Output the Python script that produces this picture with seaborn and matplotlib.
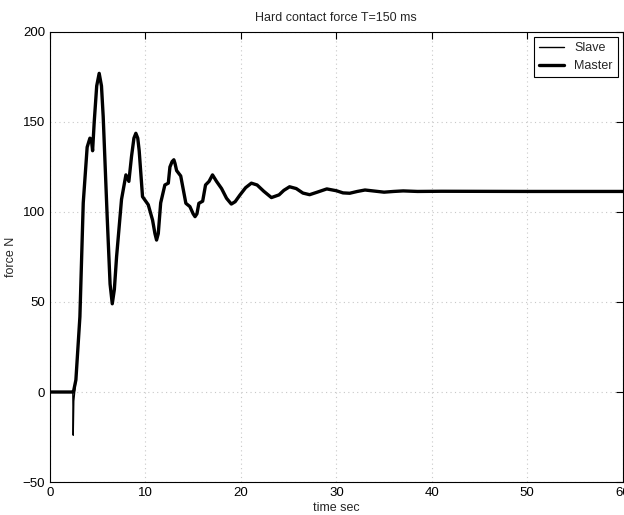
import seaborn as sns
import matplotlib.pyplot as plt
import pandas as pd

# values
time = [0.0, 2.40, 2.44, 2.50, 2.72, 3.14, 3.49, 3.90, 4.19, 4.35, 4.47, 4.64, 4.90, 5.16,
        5.40, 5.58, 6.00, 6.30, 6.53, 6.75, 6.98, 7.50, 7.96, 8.27, 8.55, 8.80, 9.00,
        9.20, 9.35, 9.70, 10.30, 10.75, 11.00, 11.17, 11.35, 11.60, 12.04, 12.40, 12.57,
        12.80, 12.98, 13.10, 13.27, 13.70, 14.24, 14.66, 15.00, 15.20, 15.40, 15.60,
        16.00, 16.30, 16.67, 17.03, 17.45, 17.98, 18.50, 19.00, 19.40, 19.90, 20.50,
        21.10, 21.70, 22.40, 23.20, 24.00, 24.50, 25.10, 25.80, 26.50, 27.20, 28.00,
        29.00, 30.00, 30.70, 31.40, 32.20, 33.00, 34.00, 35.00, 36.00, 37.00, 38.50,
        41.00, 50.00, 60.00]
slave = [0.0, 0.0, -24.0, -5.0, 6.7, 41.8, 105.0, 136.0, 141.0, 140.0, 134.0, 150.0, 170.0, 177.0,
         170.0, 153.0, 97.0, 60.0, 49.0, 57.0, 75.0, 107.0, 120.6, 117.0, 131.0, 141.0, 143.7,
         141.0, 134.0, 108.5, 104.0, 95.5, 88.0, 84.4, 88.0, 105.0, 115.0, 116.0, 125.0,
         128.0, 129.0, 127.0, 123.0, 120.0, 104.8, 103.0, 99.0, 97.4, 99.0, 104.8,
         106.0, 115.0, 117.0, 120.6, 117.0, 113.0, 107.6, 104.4, 105.7, 109.4, 113.5,
         116.0, 115.0, 111.5, 108.0, 109.5, 112.0, 114.0, 113.0, 110.5, 109.6, 111.0,
         112.8, 111.8, 110.6, 110.4, 111.4, 112.2, 111.6, 111.0, 111.4, 111.7, 111.4,
         111.5, 111.4, 111.4]
master = [0.0, 0.0, 0.0, 1.0, 6.7, 41.8, 105.0, 136.0, 141.0, 140.0, 134.0, 150.0, 170.0, 177.0,
          170.0, 153.0, 97.0, 60.0, 49.0, 57.0, 75.0, 107.0, 120.6, 117.0, 131.0, 141.0, 143.7,
          141.0, 134.0, 108.5, 104.0, 95.5, 88.0, 84.4, 88.0, 105.0, 115.0, 116.0, 125.0,
          128.0, 129.0, 127.0, 123.0, 120.0, 104.8, 103.0, 99.0, 97.4, 99.0, 104.8,
          106.0, 115.0, 117.0, 120.6, 117.0, 113.0, 107.6, 104.4, 105.7, 109.4, 113.5,
          116.0, 115.0, 111.5, 108.0, 109.5, 112.0, 114.0, 113.0, 110.5, 109.6, 111.0,
          112.8, 111.8, 110.6, 110.4, 111.4, 112.2, 111.6, 111.0, 111.4, 111.7, 111.4,
          111.5, 111.4, 111.4]

df = pd.concat([
    pd.DataFrame({"time": time, "force": slave, "signal": "Slave"}),
    pd.DataFrame({"time": time, "force": master, "signal": "Master"}),
], ignore_index=True)

sns.set_style("white")
plt.rcParams["font.family"] = ["Liberation Sans", "DejaVu Sans"]
plt.rcParams["font.size"] = 9
plt.rcParams["xtick.direction"] = "in"
plt.rcParams["ytick.direction"] = "in"

fig = plt.figure(figsize=(6.24, 5.15), dpi=100)
ax = fig.add_axes([0.080, 0.064, 0.918, 0.874])

ax = sns.lineplot(data=df, x="time", y="force", hue="signal", size="signal",
                  palette={"Slave": "black", "Master": "black"},
                  sizes={"Slave": 1.0, "Master": 2.4},
                  estimator=None, sort=False, ax=ax)
for line in ax.lines:
    line.set_solid_joinstyle("round")

ax.set_xlim(0, 60)
ax.set_ylim(-50, 200)
ax.set_xticks(range(0, 61, 10))
ax.set_yticks(range(-50, 201, 50))
ax.tick_params(top=True, right=True, length=5, width=0.8, labelsize=9.5, colors="black")
ax.grid(True, linestyle=(0, (1, 3)), color="#c8c8c8", linewidth=0.8)
for s in ax.spines.values():
    s.set_color("black")
    s.set_linewidth(0.8)

ax.set_xlabel("time sec", fontsize=9, labelpad=2)
ax.set_ylabel("force N", fontsize=9, labelpad=4)
ax.set_title("Hard contact force T=150 ms", fontsize=9, pad=8)

leg = ax.legend(loc="upper right", fancybox=False, edgecolor="black",
                fontsize=9, handlelength=2.0, borderaxespad=0.4, framealpha=1)
leg.get_frame().set_linewidth(0.8)

fig.savefig("out.png", dpi=100)
